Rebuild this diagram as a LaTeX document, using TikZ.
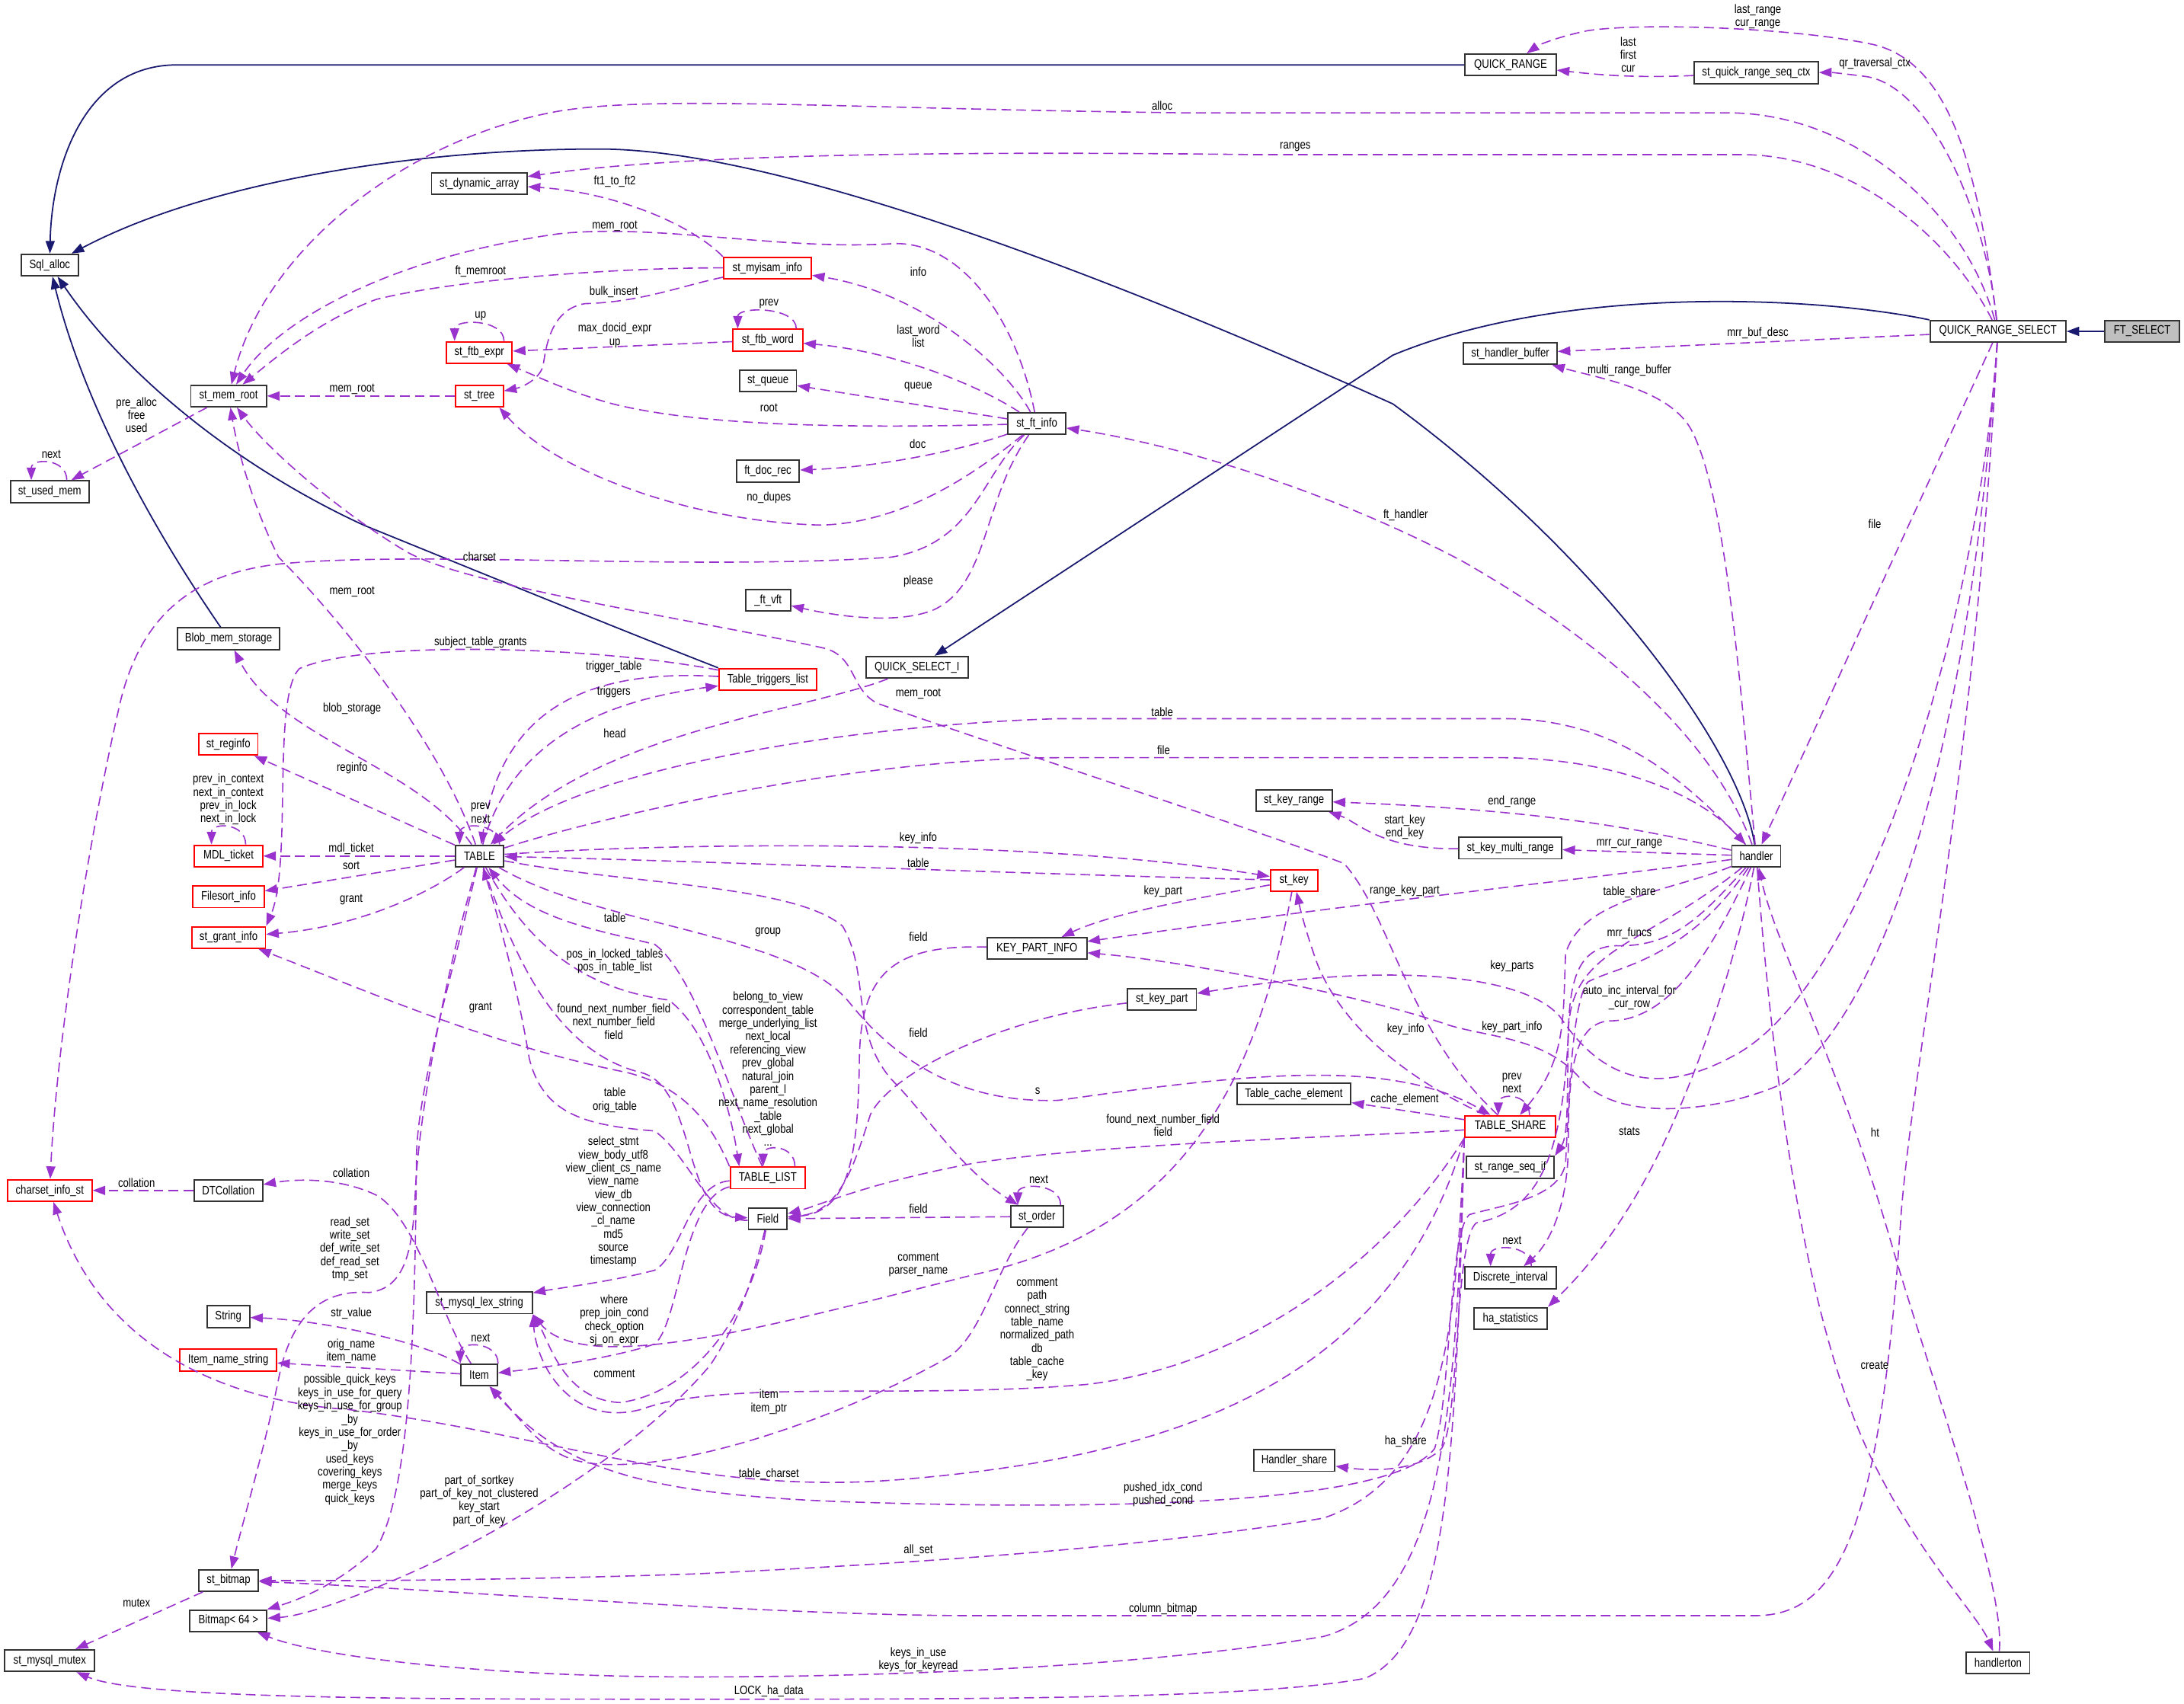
\documentclass[tikz,border=0pt]{standalone}
\usepackage{fontspec}
\newfontfamily\dxfont[FakeStretch=0.82]{Liberation Sans}
\newcommand{\dxsize}{\dxfont\fontsize{5pt}{5.4pt}\selectfont}
\usetikzlibrary{arrows.meta}
\definecolor{Usage}{HTML}{9A32CD}
\definecolor{Derive}{HTML}{191970}
\definecolor{Focus}{HTML}{BFBFBF}

\begin{document}
\begin{tikzpicture}[x=0.02cm,y=-0.02cm,
  cls/.style={draw=black!80,line width=0.6pt,fill=white,inner sep=0pt,minimum height=0.31cm,font=\dxsize},
  cutcls/.style={cls,draw=red},
  focuscls/.style={cls,fill=Focus},
  usage/.style={draw=Usage,line width=0.5pt,dash pattern=on 1.4mm off 0.75mm,-{Triangle[length=1.8mm,width=1.3mm]}},
  derive/.style={draw=Derive,line width=0.55pt,-{Triangle[length=1.8mm,width=1.3mm]}},
  elabel/.style={font=\dxsize,align=center,inner sep=0pt}]
\useasboundingbox (0,0) rectangle (1568,1223);
\fill[white] (0,0) rectangle (1568,1223);

\node[cls,minimum width=0.824cm] (sqlalloc) at (35.7,190.3) {Sql\_alloc};
\node[cls,minimum width=1.132cm] (usedmem) at (35.7,353) {st\_used\_mem};
\node[cutcls,minimum width=1.212cm] (charset) at (35.7,854.7) {charset\_info\_st};
\node[cls,minimum width=1.292cm] (mutex) at (35.7,1192.3) {st\_mysql\_mutex};
\node[cls,minimum width=1.084cm] (memroot) at (164.1,284.3) {st\_mem\_root};
\node[cls,minimum width=1.472cm] (blob) at (164.1,458.6) {Blob\_mem\_storage};
\node[cutcls,minimum width=0.85cm] (reginfo) at (163.9,534.4) {st\_reginfo};
\node[cutcls,minimum width=0.976cm] (mdl) at (164.1,614.6) {MDL\_ticket};
\node[cutcls,minimum width=1.02cm] (filesort) at (164.1,643.9) {Filesort\_info};
\node[cutcls,minimum width=1.06cm] (grant) at (164.1,673.1) {st\_grant\_info};
\node[cls,minimum width=0.984cm] (dtcoll) at (163.9,854.7) {DTCollation};
\node[cls,minimum width=0.61cm] (string) at (163.9,945.3) {String};
\node[cutcls,minimum width=1.386cm] (itemname) at (163.9,976.5) {Item\_name\_string};
\node[cls,minimum width=0.856cm] (bitmap) at (164.1,1134.7) {st\_bitmap};
\node[cls,minimum width=1.106cm] (bitmap64) at (164,1163.7) {Bitmap< 64 >};
\node[cls,minimum width=1.372cm] (dynarr) at (344.1,131.8) {st\_dynamic\_array};
\node[cutcls,minimum width=0.944cm] (ftbexpr) at (344.1,253.1) {st\_ftb\_expr};
\node[cutcls,minimum width=0.69cm] (tree) at (344.1,284.3) {st\_tree};
\node[cls,minimum width=0.696cm] (table) at (344.3,614.6) {TABLE};
\node[cls,minimum width=1.52cm] (lexstr) at (344.1,935.4) {st\_mysql\_lex\_string};
\node[cls,minimum width=0.522cm] (item) at (344,987.2) {Item};
\node[cutcls,minimum width=1.26cm] (myisam) at (551,192.5) {st\_myisam\_info};
\node[cutcls,minimum width=1cm] (ftbword) at (551.2,244.2) {st\_ftb\_word};
\node[cls,minimum width=0.816cm] (queue) at (551.4,273.6) {st\_queue};
\node[cls,minimum width=0.904cm] (docrec) at (551.3,338.3) {ft\_doc\_rec};
\node[cls,minimum width=0.644cm] (ftvft) at (551.4,431) {\_ft\_vft};
\node[cutcls,minimum width=1.4cm] (triggers) at (551.2,487.8) {Table\_triggers\_list};
\node[cutcls,minimum width=1.078cm] (tablelist) at (551.2,845.7) {TABLE\_LIST};
\node[cls,minimum width=0.554cm] (field) at (551.2,875.1) {Field};
\node[cls,minimum width=0.83cm] (ftinfo) at (744.4,304.1) {st\_ft\_info};
\node[cls,minimum width=1.468cm] (qsi) at (658.4,479.1) {QUICK\_SELECT\_I};
\node[cls,minimum width=1.428cm] (kpi) at (744.5,681) {KEY\_PART\_INFO};
\node[cls,minimum width=0.756cm] (order) at (744.5,873.4) {st\_order};
\node[cls,minimum width=0.992cm] (keypart) at (834.1,717.4) {st\_key\_part};
\node[cls,minimum width=1.092cm] (keyrange) at (929,574.7) {st\_key\_range};
\node[cutcls,minimum width=0.676cm] (stkey) at (929,632.1) {st\_key};
\node[cls,minimum width=1.634cm] (cacheel) at (928.9,785.5) {Table\_cache\_element};
\node[cls,minimum width=1.166cm] (hshare) at (929.2,1048.6) {Handler\_share};
\node[cls,minimum width=1.308cm] (qrange) at (1084.5,46.6) {QUICK\_RANGE};
\node[cls,minimum width=1.342cm] (hbuf) at (1084.3,253.9) {st\_handler\_buffer};
\node[cls,minimum width=1.478cm] (multirange) at (1084.3,608.9) {st\_key\_multi\_range};
\node[cutcls,minimum width=1.3cm] (tshare) at (1084.3,808.8) {TABLE\_SHARE};
\node[cls,minimum width=1.262cm] (seqif) at (1084.3,838.1) {st\_range\_seq\_if};
\node[cls,minimum width=1.308cm] (discrete) at (1084.5,917.4) {Discrete\_interval};
\node[cls,minimum width=1.052cm] (hastats) at (1084.5,946.6) {ha\_statistics};
\node[cls,minimum width=1.78cm] (seqctx) at (1260.9,52.3) {st\_quick\_range\_seq\_ctx};
\node[cls,minimum width=0.7cm] (handler) at (1260.9,614.6) {handler};
\node[cls,minimum width=1.95cm] (qrs) at (1434.4,237.9) {QUICK\_RANGE\_SELECT};
\node[cls,minimum width=0.91cm] (hton) at (1434.5,1193.8) {handlerton};
\node[focuscls,minimum width=1.072cm] (ftselect) at (1538,237.9) {FT\_SELECT};

\draw[derive] (qrange) -- (127,46.6) .. controls (60,46.6) and (37,120) .. (sqlalloc);
\draw[derive] (handler) .. controls (1250,540) and (1150,400) .. (1000,290) .. controls (800,200) and (560,107) .. (430,107) .. controls (300,107) and (150,130) .. (sqlalloc);
\draw[derive] (blob) .. controls (110,380) and (60,290) .. (sqlalloc);
\draw[derive] (triggers.north west) .. controls (440,450) and (330,405) .. (261,377) .. controls (170,335) and (90,270) .. (sqlalloc);
\draw[derive] (qrs.north west) .. controls (1300,212) and (1120,205) .. (1000,255) -- (qsi);
\draw[derive] (ftselect) -- (qrs);

\draw[usage] (qrs) .. controls (1420,120) and (1400,45) .. (1345,32) .. controls (1290,20) and (1180,16) .. (1140,22) .. controls (1120,26) and (1105,32) .. (qrange);
\draw[usage] (seqctx) .. controls (1175,56) and (1150,54) .. (qrange);
\draw[usage] (qrs) .. controls (1425,150) and (1385,62) .. (1340,55) .. controls (1325,53) and (1315,52) .. (seqctx);
\draw[usage] (qrs) .. controls (1410,150) and (1330,81) .. (1240,81) -- (850,81) .. controls (600,78) and (470,68) .. (400,80) .. controls (290,100) and (190,180) .. (memroot);
\draw[usage] (qrs) .. controls (1400,170) and (1330,111) .. (1250,111) -- (900,111) .. controls (650,108) and (480,112) .. (dynarr);
\draw[usage] (qrs) -- (hbuf);
\draw[usage] (qrs) -- (handler);
\draw[usage] (qrs) .. controls (1420,450) and (1340,700) .. (1250,755) .. controls (1190,790) and (1150,775) .. (1120,730) .. controls (1095,700) and (1000,690) .. (keypart);
\draw[usage] (qrs) .. controls (1415,520) and (1360,720) .. (1280,778) .. controls (1230,800) and (1160,805) .. (1135,775) .. controls (1110,745) and (1070,745) .. (1040,736) .. controls (980,715) and (850,690) .. (kpi);
\draw[usage] (qrs) .. controls (1418,550) and (1375,750) .. (1365,870) .. controls (1350,1100) and (1320,1160) .. (1260,1160) -- (700,1160) .. controls (550,1160) and (300,1140) .. (bitmap);

\draw[usage] (handler) .. controls (1250,500) and (1240,360) .. (1215,310) .. controls (1200,280) and (1150,272) .. (hbuf);
\draw[usage] (handler) .. controls (1230,530) and (1150,460) .. (1050,403) .. controls (960,355) and (850,320) .. (ftinfo);
\draw[usage] (handler) .. controls (1200,640) and (1135,645) .. (1124,685) .. controls (1122,730) and (1125,760) .. (tshare);
\draw[usage] (handler) .. controls (1220,660) and (1200,680) .. (1160,679) .. controls (1135,680) and (1127,700) .. (1126,740) .. controls (1125,790) and (1126,815) .. (seqif.north east);
\draw[usage] (handler) .. controls (1230,680) and (1200,733) .. (1155,733) .. controls (1130,735) and (1126,770) .. (1126,820) .. controls (1126,870) and (1110,895) .. (discrete);
\draw[usage] (handler) .. controls (1240,720) and (1205,800) .. (1190,830) .. controls (1160,890) and (1130,920) .. (hastats.north east);
\draw[usage] (handler) .. controls (1275,800) and (1300,960) .. (1345,1050) .. controls (1380,1120) and (1420,1160) .. (hton);
\draw[usage] (hton) .. controls (1440,1140) and (1390,1000) .. (1360,900) .. controls (1320,760) and (1275,680) .. (handler);
\draw[usage] (handler) -- (multirange);
\draw[usage] (multirange) .. controls (990,610) and (975,590) .. (keyrange);
\draw[usage] (handler) .. controls (1190,598) and (1120,582) .. (keyrange);
\draw[usage] (handler) .. controls (1150,630) and (1000,645) .. (kpi);
\draw[usage] (handler) .. controls (1210,560) and (1160,516) .. (1080,516) -- (760,516) .. controls (620,520) and (420,550) .. (table);
\draw[usage] (table) .. controls (420,590) and (600,545) .. (760,544) -- (1080,544) .. controls (1160,545) and (1220,570) .. (handler);
\draw[usage] (handler) .. controls (1210,690) and (1160,694) .. (1140,705) .. controls (1128,720) and (1126,800) .. (1124,835) .. controls (1120,860) and (1080,865) .. (1055,872) .. controls (1040,885) and (1042,1000) .. (1030,1040) .. controls (1000,1080) and (800,1085) .. (600,1078) .. controls (450,1072) and (400,1050) .. (item);
\draw[usage] (handler) .. controls (1180,680) and (1128,680) .. (1126,740) .. controls (1122,840) and (1100,870) .. (1060,878) .. controls (1044,890) and (1048,1020) .. (1035,1040) .. controls (1020,1055) and (990,1057) .. (hshare);

\draw[usage] (table) .. controls (500,604) and (750,603) .. (stkey);
\draw[usage] (stkey) .. controls (750,628) and (500,618) .. (table);
\draw[usage] (qsi) .. controls (580,510) and (430,525) .. (table);
\draw[usage] (triggers) .. controls (420,480) and (360,510) .. (table);
\draw[usage] (table) .. controls (365,540) and (420,505) .. (triggers);
\draw[usage] (triggers) .. controls (420,463) and (260,460) .. (215,480) .. controls (195,500) and (210,620) .. (grant.north east);
\draw[usage] (table) .. controls (300,550) and (200,530) .. (blob);
\draw[usage] (table) .. controls (315,530) and (240,440) .. (200,400) .. controls (180,360) and (170,320) .. (memroot);
\draw[usage] (table) -- (reginfo);
\draw[usage] (table) -- (mdl);
\draw[usage] (table) -- (filesort);
\draw[usage] (table) .. controls (310,640) and (260,665) .. (grant);
\draw[usage] (table.30) .. controls +(0,-16) and +(0,-16) .. (table.150);
\draw[usage] (table) .. controls (370,690) and (400,755) .. (460,770) .. controls (500,780) and (490,872) .. (field);
\draw[usage] (field) .. controls (510,878) and (495,830) .. (470,812) .. controls (420,808) and (390,800) .. (380,760) .. controls (370,700) and (355,650) .. (table);
\draw[usage] (table) .. controls (380,680) and (420,710) .. (480,718) .. controls (510,740) and (525,800) .. (tablelist.158);
\draw[usage] (tablelist) .. controls (525,790) and (500,700) .. (470,678) .. controls (430,668) and (380,660) .. (table);
\draw[usage] (tablelist.23) .. controls +(0,-16) and +(0,-16) .. (tablelist.112);
\draw[usage] (tablelist.north west) .. controls (510,805) and (490,780) .. (450,770) .. controls (350,750) and (260,710) .. (grant);
\draw[usage] (tablelist) .. controls (495,850) and (490,900) .. (470,912) .. controls (440,920) and (400,925) .. (lexstr);
\draw[usage] (tablelist) .. controls (490,860) and (488,950) .. (470,965) .. controls (440,975) and (390,982) .. (item);

\draw[usage] (field) .. controls (540,940) and (500,1000) .. (445,1007) .. controls (405,1005) and (395,965) .. (lexstr.south east);
\draw[usage] (field) .. controls (540,920) and (530,950) .. (510,980) .. controls (460,1040) and (360,1100) .. (300,1127) .. controls (260,1145) and (220,1160) .. (bitmap64);
\draw[usage] (stkey) .. controls (860,645) and (800,655) .. (kpi);
\draw[usage] (stkey) .. controls (905,760) and (860,880) .. (700,915) .. controls (560,950) and (420,990) .. (lexstr.south east);
\draw[usage] (kpi) .. controls (640,678) and (618,700) .. (617,760) .. controls (616,830) and (610,870) .. (field);
\draw[usage] (keypart) .. controls (720,730) and (640,770) .. (625,800) .. controls (615,830) and (605,870) .. (field);
\draw[usage] (order) -- (field);
\draw[usage] (order.26) .. controls +(0,-16) and +(0,-16) .. (order.149);
\draw[usage] (table) .. controls (450,635) and (570,635) .. (605,665) .. controls (625,700) and (610,740) .. (640,775) .. controls (665,800) and (690,840) .. (order);
\draw[usage] (table) .. controls (430,665) and (570,670) .. (610,720) .. controls (650,770) and (700,792) .. (760,790) .. controls (900,770) and (1000,760) .. (tshare);
\draw[usage] (order) .. controls (715,910) and (705,960) .. (680,975) .. controls (600,1020) and (480,1060) .. (420,1050) .. controls (390,1045) and (375,1020) .. (item);

\draw[usage] (table) .. controls (320,700) and (300,800) .. (298,860) .. controls (296,900) and (290,925) .. (265,928) .. controls (235,926) and (210,940) .. (200,990) .. controls (190,1040) and (175,1090) .. (bitmap);
\draw[usage] (table) .. controls (325,700) and (300,780) .. (299,830) .. controls (298,950) and (295,1070) .. (270,1112) .. controls (240,1140) and (210,1150) .. (bitmap64);
\draw[usage] (item.north east) .. controls +(0,-16) and +(0,-16) .. (item.north west);
\draw[usage] (item) .. controls (300,962) and (230,948) .. (string);
\draw[usage] (item) -- (itemname);
\draw[usage] (item) .. controls (318,950) and (300,875) .. (270,858) .. controls (245,846) and (215,846) .. (dtcoll);
\draw[usage] (dtcoll) -- (charset);

\draw[usage] (tshare) -- (cacheel);
\draw[usage] (tshare.31) .. controls +(0,-16) and +(0,-16) .. (tshare.136);
\draw[usage] (tshare) .. controls (1000,770) and (960,730) .. (945,690) .. controls (938,670) and (934,655) .. (stkey);
\draw[usage] (tshare) .. controls (1010,740) and (1000,660) .. (965,620) .. controls (900,595) and (700,530) .. (630,505) .. controls (610,495) and (615,470) .. (590,465) .. controls (500,445) and (330,420) .. (290,395) .. controls (240,365) and (190,320) .. (memroot);
\draw[usage] (tshare) .. controls (1000,815) and (800,820) .. (700,835) .. controls (620,850) and (590,865) .. (field);
\draw[usage] (tshare.south west) .. controls (1000,900) and (900,980) .. (780,994) .. controls (650,1005) and (520,990) .. (460,1012) .. controls (410,1025) and (385,980) .. (lexstr.south east);
\draw[usage] (tshare.south west) .. controls (1000,990) and (850,1045) .. (650,1062) .. controls (500,1075) and (400,1030) .. (250,1012) .. controls (150,1005) and (70,960) .. (charset);
\draw[usage] (tshare.south west) .. controls (1045,950) and (1040,1060) .. (950,1090) .. controls (800,1115) and (600,1125) .. (500,1130) .. controls (350,1135) and (250,1135) .. (bitmap);
\draw[usage] (tshare.south west) .. controls (1045,1000) and (1040,1150) .. (950,1175) .. controls (800,1200) and (600,1204) .. (500,1204) .. controls (350,1204) and (230,1190) .. (bitmap64);
\draw[usage] (tshare.south west) .. controls (1045,1050) and (1040,1180) .. (980,1205) .. controls (900,1220) and (700,1220) .. (500,1220) .. controls (300,1220) and (100,1220) .. (mutex);
\draw[usage] (bitmap) -- (mutex);

\draw[usage] (ftinfo) .. controls (705,340) and (700,390) .. (640,400) .. controls (500,410) and (300,395) .. (200,405) .. controls (140,412) and (100,440) .. (85,510) .. controls (60,620) and (40,760) .. (charset);
\draw[usage] (ftinfo) .. controls (730,230) and (690,172) .. (640,175) .. controls (560,180) and (470,160) .. (400,168) .. controls (280,185) and (200,230) .. (memroot);
\draw[usage] (ftinfo) .. controls (720,260) and (660,210) .. (myisam);
\draw[usage] (ftinfo) .. controls (700,275) and (640,252) .. (ftbword);
\draw[usage] (ftinfo) -- (queue);
\draw[usage] (ftinfo) .. controls (600,308) and (500,305) .. (440,290) .. controls (410,282) and (385,270) .. (ftbexpr);
\draw[usage] (ftinfo) .. controls (700,320) and (640,335) .. (docrec);
\draw[usage] (ftinfo) .. controls (700,340) and (650,375) .. (590,377) .. controls (500,375) and (400,340) .. (tree.330);
\draw[usage] (ftinfo) .. controls (705,360) and (710,420) .. (670,438) .. controls (640,450) and (590,440) .. (ftvft);

\draw[usage] (myisam) .. controls (450,192) and (330,200) .. (270,215) .. controls (230,230) and (200,255) .. (memroot);
\draw[usage] (myisam.north west) .. controls (495,160) and (440,138) .. (dynarr);
\draw[usage] (myisam) .. controls (490,205) and (460,217) .. (420,218) .. controls (395,222) and (392,250) .. (390,262) .. controls (388,272) and (375,278) .. (tree);
\draw[usage] (ftbword) -- (ftbexpr);
\draw[usage] (ftbword.22) .. controls +(0,-16) and +(0,-16) .. (ftbword.159);
\draw[usage] (ftbexpr.25) .. controls +(0,-16) and +(0,-16) .. (ftbexpr.155);
\draw[usage] (tree) -- (memroot);
\draw[usage] (memroot) -- (usedmem);
\draw[usage] (usedmem.34) .. controls +(0,-16) and +(0,-16) .. (usedmem.148);
\draw[usage] (mdl.34) .. controls +(0,-16) and +(0,-16) .. (mdl.146);
\draw[usage] (discrete.29) .. controls +(0,-16) and +(0,-16) .. (discrete.150);

\node[elabel] (lb-lastrange) at (1262,12) {last\_range\\cur\_range};
\node[elabel] (lb-lastfirst) at (1169,39.3) {last\\first\\cur};
\node[elabel] (lb-qrctx) at (1346,45.8) {qr\_traversal\_ctx};
\node[elabel] (lb-alloc) at (834.4,75.9) {alloc};
\node[elabel] (lb-ranges) at (929.9,105.7) {ranges};
\node[elabel] (lb-ft1) at (441.4,130.3) {ft1\_to\_ft2};
\node[elabel] (lb-memroota) at (441.4,162.3) {mem\_root};
\node[elabel] (lb-ftmemroot) at (345,194.7) {ft\_memroot};
\node[elabel] (lb-info) at (659.3,195) {info};
\node[elabel] (lb-bulk) at (440.7,209.4) {bulk\_insert};
\node[elabel] (lb-prevw) at (552,218) {prev};
\node[elabel] (lb-upx) at (345,226.9) {up};
\node[elabel] (lb-maxdoc) at (441.4,240.9) {max\_docid\_expr\\up};
\node[elabel] (lb-lastword) at (659.3,241.5) {last\_word\\list};
\node[elabel] (lb-mrrbuf) at (1262,238.9) {mrr\_buf\_desc};
\node[elabel] (lb-multibuf) at (1169.8,266.2) {multi\_range\_buffer};
\node[elabel] (lb-queue) at (659.3,278) {queue};
\node[elabel] (lb-memrootb) at (252.8,279.5) {mem\_root};
\node[elabel] (lb-root) at (552,292.6) {root};
\node[elabel] (lb-prealloc) at (98,297.9) {pre\_alloc\\free\\used};
\node[elabel] (lb-doc) at (658.9,318.8) {doc};
\node[elabel] (lb-nextu) at (36.8,326.3) {next};
\node[elabel] (lb-nodupes) at (552,357.2) {no\_dupes};
\node[elabel] (lb-fthandler) at (1009.2,370) {ft\_handler};
\node[elabel] (lb-filea) at (1346,376) {file};
\node[elabel] (lb-charset) at (344.3,399.9) {charset};
\node[elabel] (lb-please) at (659.3,417.3) {please};
\node[elabel] (lb-memrootc) at (252.8,425) {mem\_root};
\node[elabel] (lb-subject) at (345,461) {subject\_table\_grants};
\node[elabel] (lb-trigtable) at (440.7,478.5) {trigger\_table};
\node[elabel] (lb-triggers) at (440.7,497) {triggers};
\node[elabel] (lb-memrootd) at (659.3,498.1) {mem\_root};
\node[elabel] (lb-blob) at (252.8,509) {blob\_storage};
\node[elabel] (lb-tablea) at (834.4,511.1) {table};
\node[elabel] (lb-head) at (441.4,526.5) {head};
\node[elabel] (lb-fileb) at (835.4,538.4) {file};
\node[elabel] (lb-reginfo) at (252.8,551.4) {reginfo};
\node[elabel] (lb-mdlloop) at (163.9,574) {prev\_in\_context\\next\_in\_context\\prev\_in\_lock\\next\_in\_lock};
\node[elabel] (lb-endrange) at (1085.5,575.8) {end\_range};
\node[elabel] (lb-tableloop) at (345,583.6) {prev\\next};
\node[elabel] (lb-startkey) at (1008.5,593.8) {start\_key\\end\_key};
\node[elabel] (lb-keyinfoa) at (659.3,601.8) {key\_info};
\node[elabel] (lb-mrrcur) at (1169.8,606) {mrr\_cur\_range};
\node[elabel] (lb-mdl) at (252.2,609.5) {mdl\_ticket};
\node[elabel] (lb-tableb) at (659.3,619.5) {table};
\node[elabel] (lb-sort) at (252.2,621.6) {sort};
\node[elabel] (lb-rangekp) at (1008.5,639.4) {range\_key\_part};
\node[elabel] (lb-keypart) at (835,640.2) {key\_part};
\node[elabel] (lb-tshare) at (1169.8,640.7) {table\_share};
\node[elabel] (lb-granta) at (252.2,646) {grant};
\node[elabel] (lb-tablec) at (441.4,658.8) {table};
\node[elabel] (lb-group) at (551.4,669.4) {group};
\node[elabel] (lb-mrrfuncs) at (1169.8,669.9) {mrr\_funcs};
\node[elabel] (lb-fielda) at (659.3,672.8) {field};
\node[elabel] (lb-posin) at (441.4,690.2) {pos\_in\_locked\_tables\\pos\_in\_table\_list};
\node[elabel] (lb-keyparts) at (1085.5,693.5) {key\_parts};
\node[elabel] (lb-autoinc) at (1169.8,716.4) {auto\_inc\_interval\_for\\\_cur\_row};
\node[elabel] (lb-grantb) at (345,723.7) {grant};
\node[elabel] (lb-foundnexta) at (440.7,733.5) {found\_next\_number\_field\\next\_number\_field\\field};
\node[elabel] (lb-kpinfo) at (1085.5,737.2) {key\_part\_info};
\node[elabel] (lb-keyinfob) at (1009.2,739.1) {key\_info};
\node[elabel] (lb-fieldb) at (659.3,741.7) {field};
\node[elabel] (lb-belong) at (551.4,767.6) {belong\_to\_view\\correspondent\_table\\merge\_underlying\_list\\next\_local\\referencing\_view\\prev\_global\\natural\_join\\parent\_l\\next\_name\_resolution\\\_table\\next\_global\\...};
\node[elabel] (lb-shareloop) at (1085.5,777.7) {prev\\next};
\node[elabel] (lb-s) at (745,783.4) {s};
\node[elabel] (lb-cacheel) at (1008.5,789.2) {cache\_element};
\node[elabel] (lb-origtable) at (441.4,789.9) {table\\orig\_table};
\node[elabel] (lb-foundnextb) at (835,808.1) {found\_next\_number\_field\\field};
\node[elabel] (lb-stats) at (1169.8,812.3) {stats};
\node[elabel] (lb-ht) at (1346.2,813) {ht};
\node[elabel] (lb-colla) at (252.2,842.3) {collation};
\node[elabel] (lb-nexto) at (745.7,847) {next};
\node[elabel] (lb-collb) at (98,849.1) {collation};
\node[elabel] (lb-select) at (440.4,862.9) {select\_stmt\\view\_body\_utf8\\view\_client\_cs\_name\\view\_name\\view\_db\\view\_connection\\\_cl\_name\\md5\\source\\timestamp};
\node[elabel] (lb-fieldc) at (659.3,868) {field};
\node[elabel] (lb-nextd) at (1085.5,890.7) {next};
\node[elabel] (lb-readset) at (251.2,896.8) {read\_set\\write\_set\\def\_write\_set\\def\_read\_set\\tmp\_set};
\node[elabel] (lb-commentp) at (659.3,908.2) {comment\\parser\_name};
\node[elabel] (lb-strvalue) at (252.2,942.8) {str\_value};
\node[elabel] (lb-where) at (441,947.9) {where\\prep\_join\_cond\\check\_option\\sj\_on\_expr};
\node[elabel] (lb-path) at (744.6,954.7) {comment\\path\\connect\_string\\table\_name\\normalized\_path\\db\\table\_cache\\\_key};
\node[elabel] (lb-nexti) at (345,960.7) {next};
\node[elabel] (lb-origname) at (252.2,970) {orig\_name\\item\_name};
\node[elabel] (lb-create) at (1345.9,980) {create};
\node[elabel] (lb-comment) at (441,986.5) {comment};
\node[elabel] (lb-itemptr) at (552,1006.5) {item\\item\_ptr};
\node[elabel] (lb-possible) at (251.2,1033.6) {possible\_quick\_keys\\keys\_in\_use\_for\_query\\keys\_in\_use\_for\_group\\\_by\\keys\_in\_use\_for\_order\\\_by\\used\_keys\\covering\_keys\\merge\_keys\\quick\_keys};
\node[elabel] (lb-hashare) at (1009.2,1034.9) {ha\_share};
\node[elabel] (lb-tcharset) at (552,1058.5) {table\_charset};
\node[elabel] (lb-pushed) at (835,1072.9) {pushed\_idx\_cond\\pushed\_cond};
\node[elabel] (lb-partof) at (344,1077.5) {part\_of\_sortkey\\part\_of\_key\_not\_clustered\\key\_start\\part\_of\_key};
\node[elabel] (lb-allset) at (659.3,1113) {all\_set};
\node[elabel] (lb-mutex) at (98,1150.7) {mutex};
\node[elabel] (lb-colbitmap) at (835,1155) {column\_bitmap};
\node[elabel] (lb-keysinuse) at (659.3,1191.8) {keys\_in\_use\\keys\_for\_keyread};
\node[elabel] (lb-lockha) at (552,1214.4) {LOCK\_ha\_data};
\end{tikzpicture}
\end{document}
